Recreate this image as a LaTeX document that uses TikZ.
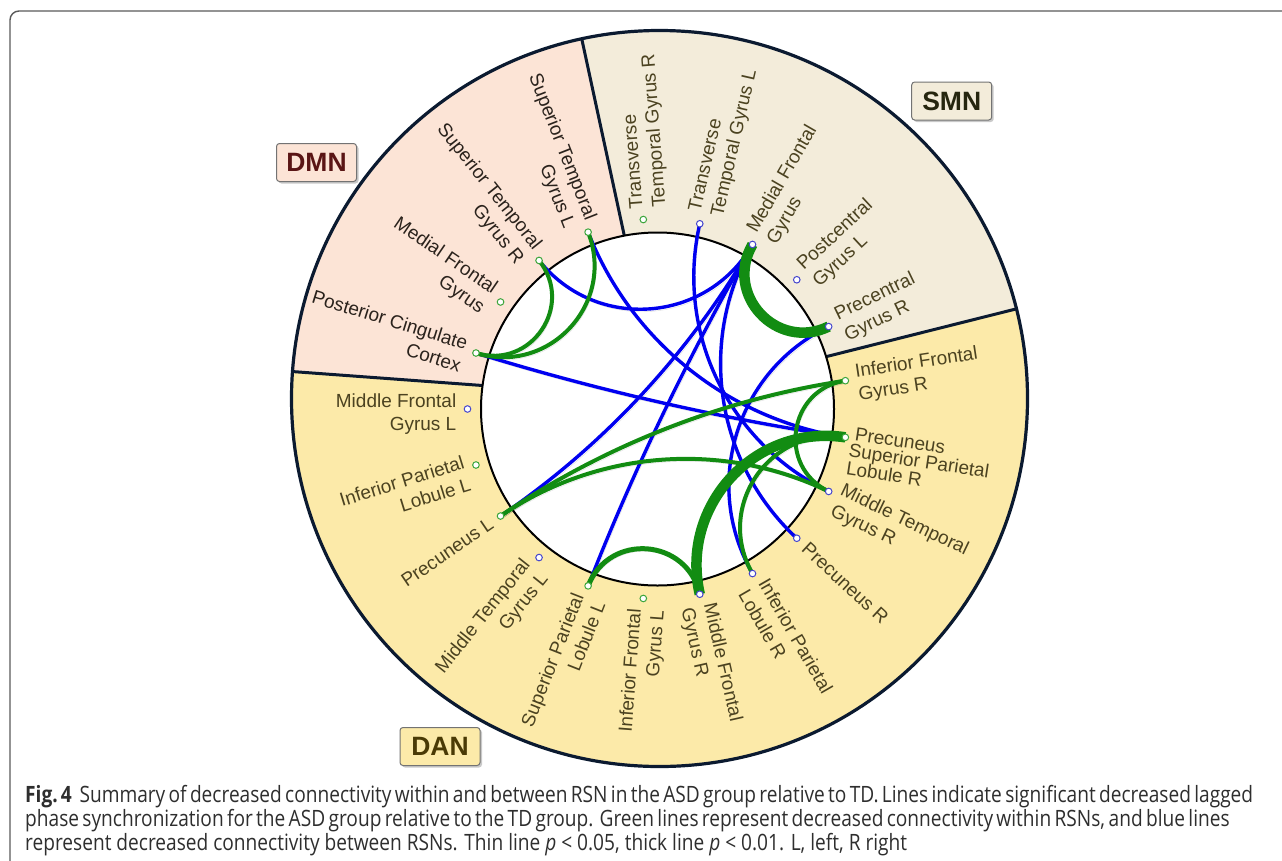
\documentclass[tikz,border=0pt]{standalone}
\usepackage{fontspec}
\setmainfont{Liberation Sans}
\newfontfamily\capfont{Open Sans}
\usetikzlibrary{calc,shadows}
\definecolor{dmnfill}{HTML}{FCE4D6}
\definecolor{smnfill}{HTML}{F3ECDA}
\definecolor{danfill}{HTML}{FCEAA9}
\definecolor{ringcol}{HTML}{0B1A30}
\definecolor{lgreen}{RGB}{18,140,18}
\definecolor{lblue}{RGB}{0,0,240}
\definecolor{dotgreen}{RGB}{60,165,60}
\definecolor{dotblue}{RGB}{70,70,205}
\definecolor{dmntext}{HTML}{2A221C}
\definecolor{nettext}{HTML}{4B4220}
\definecolor{dmnhead}{HTML}{5A1515}
\definecolor{smnhead}{HTML}{26260F}
\definecolor{danhead}{HTML}{4A3A05}
\definecolor{framecol}{HTML}{5A5A5A}
\definecolor{captext}{HTML}{2E2E2E}

\newcommand\capsize{\capfont\fontsize{22.5}{26}\selectfont}
\newcommand\capthree{represent decreased connectivity between RSNs. Thin line \textit{p} < 0.05, thick line \textit{p} < 0.01. L, left, R right}
\newlength\fitlen
\newlength\spreadlen
% scale every caption line by the factor that makes the last (unjustified) line fit
\newcommand\capline[2]{\pgfmathsetlength\spreadlen{#1/\capfac}\scalebox{\capfac}[1]{\makebox[\spreadlen][s]{#2}}}

\newcommand\conn[3]{%
  \pgfmathsetmacro\cth{min(abs(#2-#3),21-abs(#2-#3))*360/21}%
  \pgfmathsetmacro\ck{4/3*tan(45-\cth/4)*tan(\cth/2)}%
  \draw[#1] (n#2) .. controls ($(n#2)!\ck!(C)$) and ($(n#3)!\ck!(C)$) .. (n#3);}

\newcommand\lblR[4]{%
  \pgfmathsetmacro\ang{180-#1*360/21}%
  \node[lbl, text=#2, rotate=\ang, anchor=west, align=left] (l#1) at ($(C)+(\ang:201)+({\ang+90}:#3)$) {#4};}
\newcommand\lblL[4]{%
  \pgfmathsetmacro\ang{180-#1*360/21}%
  \node[lbl, text=#2, rotate=\ang+180, anchor=east, align=right] (l#1) at ($(C)+(\ang:201)+({\ang-90}:#3)$) {#4};}

\begin{document}
\settowidth\fitlen{\capsize\capthree}
\pgfmathsetmacro\capfac{882/\fitlen}
\begin{tikzpicture}[x=1pt,y=1pt,
  lbl/.style={font=\fontsize{19}{23}\selectfont, inner sep=0pt},
  dot/.style={circle, fill=white, line width=1, minimum size=6.6, inner sep=0pt},
  lshadow/.style={preaction={draw=black, opacity=0.13, transform canvas={shift={(1.5,-2.5)}}}},
  blueline/.style={draw=lblue, line width=3.4, lshadow},
  greenline/.style={draw=lgreen, line width=4, lshadow},
  greenmid/.style={draw=lgreen, line width=5, lshadow},
  greenthick/.style={draw=lgreen, line width=10.5, lshadow},
  head/.style={draw=black!55, line width=1, rounded corners=3, minimum width=80, minimum height=38, inner sep=0pt,
    font=\bfseries\fontsize{26.5}{30}\selectfont,
    drop shadow={shadow xshift=2pt, shadow yshift=-2pt, opacity=0.35, fill=black!60}},
  captionline/.style={font=\capsize, text=captext, inner sep=0pt, anchor=base west}]

\useasboundingbox (0,0) rectangle (1282,-860);
\fill[white] (0,0) rectangle (1282,-860);
\draw[framecol, line width=1.4] (1290,-11) -- (19,-11) arc[start angle=90, end angle=180, radius=9] -- (10,-870);

% centres
\coordinate (C) at (657.5,-409);
\coordinate (O) at (659.5,-398.5);

% ring
\fill[danfill] (O) circle (368);
\fill[dmnfill] (O) -- ($(O)+(102.2:368)$) arc[start angle=102.2, end angle=175.8, radius=368] -- cycle;
\fill[smnfill] (O) -- ($(O)+(14.1:368)$) arc[start angle=14.1, end angle=102.2, radius=368] -- cycle;
\foreach \t in {14.1,102.2,175.8}
  \draw[ringcol, line width=3] ($(O)+(\t:150)$) -- ($(O)+(\t:368)$);
\draw[ringcol, line width=3.2] (O) circle (368);
\filldraw[fill=white, draw=black, line width=2] (C) circle (176.5);

% node positions
\foreach \i in {1,...,21}
  \coordinate (n\i) at ($(C)+({180-\i*360/21}:190)$);

% between-network connections (blue)
\conn{blueline}{3}{7}
\conn{blueline}{4}{11}
\conn{blueline}{1}{11}
\conn{blueline}{6}{12}
\conn{blueline}{7}{13}
\conn{blueline}{7}{19}
\conn{blueline}{7}{17}
\conn{blueline}{9}{14}

% within-network connections (green)
\conn{greenline}{1}{3}
\conn{greenline}{1}{4}
\conn{greenline}{10}{19}
\conn{greenline}{10}{12}
\conn{greenline}{11}{14}
\conn{greenline}{19}{12}
\conn{greenmid}{17}{15}
\conn{greenthick}{7}{9}
\conn{greenthick}{11}{15}

% dots
\foreach \i/\c in {1/dotgreen,2/dotgreen,3/dotgreen,4/dotgreen,5/dotgreen,6/dotblue,7/dotblue,
  8/dotblue,9/dotblue,10/dotgreen,11/dotgreen,12/dotblue,13/dotblue,14/dotblue,15/dotblue,
  16/dotgreen,17/dotgreen,18/dotblue,19/dotgreen,20/dotgreen,21/dotblue}
  \node[dot, draw=\c] (d\i) at (n\i) {};

% labels
\lblL{1}{dmntext}{-5}{Posterior Cingulate\\Cortex}
\lblL{2}{dmntext}{-5}{Medial Frontal\\Gyrus}
\lblL{3}{dmntext}{-5}{Superior Temporal\\Gyrus R}
\lblL{4}{dmntext}{-5}{Superior Temporal\\Gyrus L}
\lblR{5}{nettext}{-7}{Transverse\\Temporal Gyrus R}
\lblR{6}{nettext}{-5}{Transverse\\Temporal Gyrus L}
\lblR{7}{nettext}{-5}{Medial Frontal\\Gyrus}
\lblR{8}{nettext}{-5}{Postcentral\\Gyrus L}
\lblR{9}{nettext}{-5}{Precentral\\Gyrus R}
\lblR{10}{nettext}{-5}{Inferior Frontal\\Gyrus R}
\node[lbl, text=nettext, rotate=-8.571, anchor=base west] (l11a) at ($(n11)+(-8.571:9)+(-98.571:1.5)$) {Precuneus};
\node[lbl, text=nettext, rotate=-8.571, anchor=north west, align=left, font=\fontsize{19}{18}\selectfont] (l11b) at ($(n11)+(-8.571:5.5)+(-98.571:5)$) {Superior Parietal\\Lobule R};
\lblR{12}{nettext}{-5}{Middle Temporal\\Gyrus R}
\lblR{13}{nettext}{0}{Precuneus R}
\lblR{14}{nettext}{-5}{Inferior Parietal\\Lobule R}
\lblR{15}{nettext}{-5}{Middle Frontal\\Gyrus R}
\lblL{16}{nettext}{-5}{Inferior Frontal\\Gyrus L}
\lblL{17}{nettext}{-5}{Superior Parietal\\Lobule L}
\lblL{18}{nettext}{-5}{Middle Temporal\\Gyrus L}
\lblL{19}{nettext}{0}{Precuneus L}
\lblL{20}{nettext}{-5}{Inferior Parietal\\Lobule L}
\lblL{21}{nettext}{-5}{Middle Frontal\\Gyrus L}

% network headings
\node[head, fill=dmnfill, text=dmnhead] (hdmn) at (316.5,-162.5) {DMN};
\node[head, fill=smnfill, text=smnhead] (hsmn) at (951.7,-101) {SMN};
\node[head, fill=danfill, text=danhead] (hdan) at (440,-746.5) {DAN};

% caption
\node[captionline] (c1) at (25,-802) {\capline{1222}{\mbox{\textbf{Fig.\,4}\hspace{0.4em}}Summary of decreased connectivity within and between RSN in the ASD group relative to TD. Lines indicate significant decreased lagged}};
\node[captionline] (c2) at (25,-826) {\capline{1179}{phase synchronization for the ASD group relative to the TD group. Green lines represent decreased connectivity within RSNs, and blue lines}};
\node[captionline] (c3) at (25,-850) {\capline{882}{\capthree}};
\end{tikzpicture}
\end{document}
